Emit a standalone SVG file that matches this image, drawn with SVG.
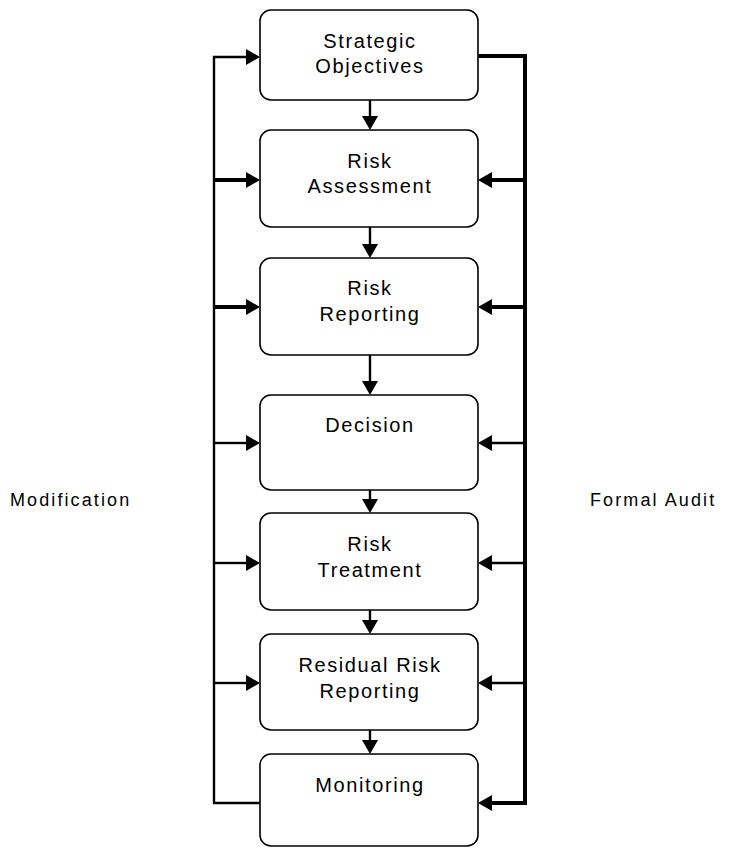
<svg xmlns="http://www.w3.org/2000/svg" width="738" height="848" viewBox="0 0 738 848">
<defs>
<style>
.box{fill:#fff;stroke:#000;stroke-width:1.6}
.t{font-family:"Liberation Sans",Arial,sans-serif;font-size:20px;letter-spacing:1.6px;text-anchor:middle;fill:#000}
.lbl{font-family:"Liberation Sans",Arial,sans-serif;font-size:18px;letter-spacing:2.1px;fill:#000}
.ln{fill:none;stroke:#000;stroke-width:2.4}
.thk{fill:none;stroke:#000;stroke-width:4}
.ah{fill:#000}
</style>
</defs>
<rect width="738" height="848" fill="#fff"/>
<g id="connectors">
<path class="ln" d="M260,803 H214 V57 H246"/>
<path class="ln" d="M214,443 H246"/>
<path class="ln" d="M214,563 H246"/>
<path class="ln" d="M214,683 H246"/>
<path class="thk" d="M214,180 H246 M214,307 H246" stroke-width="3.4"/>
<polygon class="ah" points="246,49 260,57 246,65"/>
<polygon class="ah" points="246,172 260,180 246,188"/>
<polygon class="ah" points="246,299 260,307 246,315"/>
<polygon class="ah" points="246,435 260,443 246,451"/>
<polygon class="ah" points="246,555 260,563 246,571"/>
<polygon class="ah" points="246,675 260,683 246,691"/>
<path class="thk" d="M478,56 H525 V803 H492"/>
<path class="thk" d="M525,180 H492 M525,307 H492" stroke-width="3.4"/>
<path class="ln" d="M525,443 H492 M525,563 H492 M525,683 H492"/>
<polygon class="ah" points="492,172 478,180 492,188"/>
<polygon class="ah" points="492,299 478,307 492,315"/>
<polygon class="ah" points="492,435 478,443 492,451"/>
<polygon class="ah" points="492,555 478,563 492,571"/>
<polygon class="ah" points="492,675 478,683 492,691"/>
<polygon class="ah" points="492,795 478,803 492,811"/>
<path class="ln" d="M370,100 V116 M370,227 V244 M370,355 V381 M370,490 V499 M370,610 V620 M370,730 V740"/>
<polygon class="ah" points="362,116 378,116 370,130"/>
<polygon class="ah" points="362,244 378,244 370,258"/>
<polygon class="ah" points="362,381 378,381 370,395"/>
<polygon class="ah" points="362,499 378,499 370,513"/>
<polygon class="ah" points="362,620 378,620 370,634"/>
<polygon class="ah" points="362,740 378,740 370,754"/>
</g>
<g id="n1"><rect class="box" x="260" y="10" width="218" height="90" rx="11"/><text class="t" x="370" y="48">Strategic</text><text class="t" x="370" y="73">Objectives</text></g>
<g id="n2"><rect class="box" x="260" y="130" width="218" height="97" rx="11"/><text class="t" x="370" y="168">Risk</text><text class="t" x="370" y="193">Assessment</text></g>
<g id="n3"><rect class="box" x="260" y="258" width="218" height="97" rx="11"/><text class="t" x="370" y="295">Risk</text><text class="t" x="370" y="321">Reporting</text></g>
<g id="n4"><rect class="box" x="260" y="395" width="218" height="95" rx="11"/><text class="t" x="370" y="432">Decision</text></g>
<g id="n5"><rect class="box" x="260" y="513" width="218" height="97" rx="11"/><text class="t" x="370" y="551">Risk</text><text class="t" x="370" y="577">Treatment</text></g>
<g id="n6"><rect class="box" x="260" y="634" width="218" height="96" rx="11"/><text class="t" x="370" y="672">Residual Risk</text><text class="t" x="370" y="698">Reporting</text></g>
<g id="n7"><rect class="box" x="260" y="754" width="218" height="92" rx="11"/><text class="t" x="370" y="792">Monitoring</text></g>
<g id="labels">
<text class="lbl" x="10" y="506">Modification</text>
<text class="lbl" x="590" y="506">Formal Audit</text>
</g>
</svg>
